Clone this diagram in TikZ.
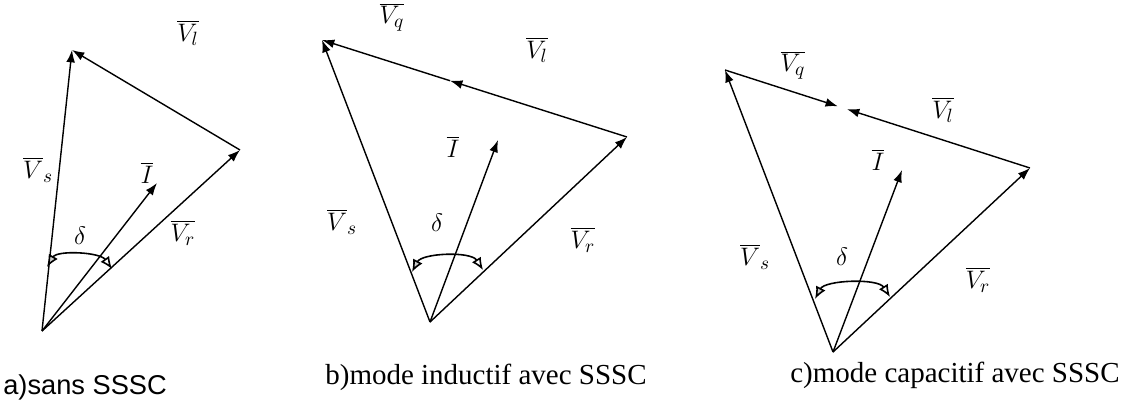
\documentclass[tikz,border=0pt]{standalone}
\usepackage{fontspec}
\newfontfamily\capserif{Liberation Serif}
\newfontfamily\capsans{Liberation Sans}
\usetikzlibrary{arrows.meta,calc}

\tikzset{
  vec/.style={line width=0.8pt,-{Latex[length=7pt,width=5pt]}},
  anglearc/.style={line width=0.9pt,
    {Latex[open,fill=gray!40,length=7pt,width=6pt]}-{Latex[open,length=7pt,width=6pt]}},
  lbl/.style={font=\fontsize{15}{17}\selectfont,inner sep=0pt},
  captext/.style={inner sep=0pt,anchor=west},
}

\begin{document}
\begin{tikzpicture}[x=0.02cm,y=-0.02cm]

\useasboundingbox (0,0) rectangle (1141,409);

%====================================================
% a) sans SSSC
%====================================================
\begin{scope}[shift={(42,331)}]

\coordinate (Oa) at (0,0);
\coordinate (Sa) at (30,-281);
\coordinate (Ra) at (198,-181);
\coordinate (Ia) at (115,-148);

% Vectors
\draw[vec] (Oa)--(Sa);
\draw[vec] (Oa)--(Ra);
\draw[vec] (Oa)--(Ia);
\draw[vec] (Ra)--(Sa);

% Angle
\coordinate (ALa) at (5,-64);
\coordinate (ARa) at (70,-62);
\draw[anglearc] (ALa) .. controls +(10,-17) and +(-12,-17) .. (ARa);

% Labels
\node[lbl] (vla) at (146,-298) {$\overline{V_l}$};
\node[lbl] (vsa) at (-4,-161) {$\overline{V}_s$};
\node[lbl] (ila) at (105,-158) {$\overline{I}$};
\node[lbl] (vra) at (141,-98) {$\overline{V_r}$};
\node[lbl] (da) at (38,-95) {$\delta$};

\end{scope}

%====================================================
% b) mode inductif
%====================================================
\begin{scope}[shift={(430,322)}]

\coordinate (Ob) at (0,0);
\coordinate (Sb) at (-108,-282);
\coordinate (Rb) at (197,-185);
\coordinate (Ib) at (68,-182);
\coordinate (Mb) at ($(Rb)!0.58!(Sb)$);

% Vectors
\draw[vec] (Ob)--(Sb);
\draw[vec] (Ob)--(Rb);
\draw[vec] (Ob)--(Ib);
\draw[vec] (Rb)--(Mb);
\draw[vec] (Mb)--(Sb);

% Angle
\coordinate (ALb) at (-18,-50);
\coordinate (ARb) at (53,-52);
\draw[anglearc] (ALb) .. controls +(10,-19) and +(-12,-19) .. (ARb);

% Labels
\node[lbl] (vqb) at (-38,-305) {$\overline{V_q}$};
\node[lbl] (vlb) at (107,-272) {$\overline{V_l}$};
\node[lbl] (ilb) at (23,-175) {$\overline{I}$};
\node[lbl] (vsb) at (-88,-100) {$\overline{V}_s$};
\node[lbl] (db) at (7,-99) {$\delta$};
\node[lbl] (vrb) at (153,-82) {$\overline{V_r}$};

\end{scope}

%====================================================
% c) mode capacitif
%====================================================
\begin{scope}[shift={(833,352)}]

\coordinate (Oc) at (0,0);
\coordinate (Sc) at (-108,-282);
\coordinate (Rc) at (197,-184);
\coordinate (Ic) at (69,-182);
\coordinate (Mqc) at ($(Sc)!0.37!(Rc)$);
\coordinate (Mlc) at ($(Sc)!0.40!(Rc)$);

% Vectors
\draw[vec] (Oc)--(Sc);
\draw[vec] (Oc)--(Rc);
\draw[vec] (Oc)--(Ic);
\draw[vec] (Sc)--(Mqc);
\draw[vec] (Rc)--(Mlc);

% Angle
\coordinate (ALc) at (-18,-53);
\coordinate (ARc) at (57,-55);
\draw[anglearc] (ALc) .. controls +(10,-19) and +(-12,-19) .. (ARc);

% Labels
\node[lbl] (vqc) at (-40,-287) {$\overline{V_q}$};
\node[lbl] (vlc) at (110,-242) {$\overline{V_l}$};
\node[lbl] (ilc) at (45,-192) {$\overline{I}$};
\node[lbl] (vsc) at (-78,-95) {$\overline{V}_s$};
\node[lbl] (dc) at (9,-95) {$\delta$};
\node[lbl] (vrc) at (145,-72) {$\overline{V_r}$};

\end{scope}

% Captions
\node[captext,font=\capsans\fontsize{15.5}{17}\selectfont] (capa) at (3,387) {a)sans SSSC};
\node[captext,font=\capserif\fontsize{16.5}{18}\selectfont] (capb) at (325,377) {b)mode inductif avec SSSC};
\node[captext,font=\capserif\fontsize{16.5}{18}\selectfont] (capc) at (790,375) {c)mode capacitif avec SSSC};

\end{tikzpicture}
\end{document}
